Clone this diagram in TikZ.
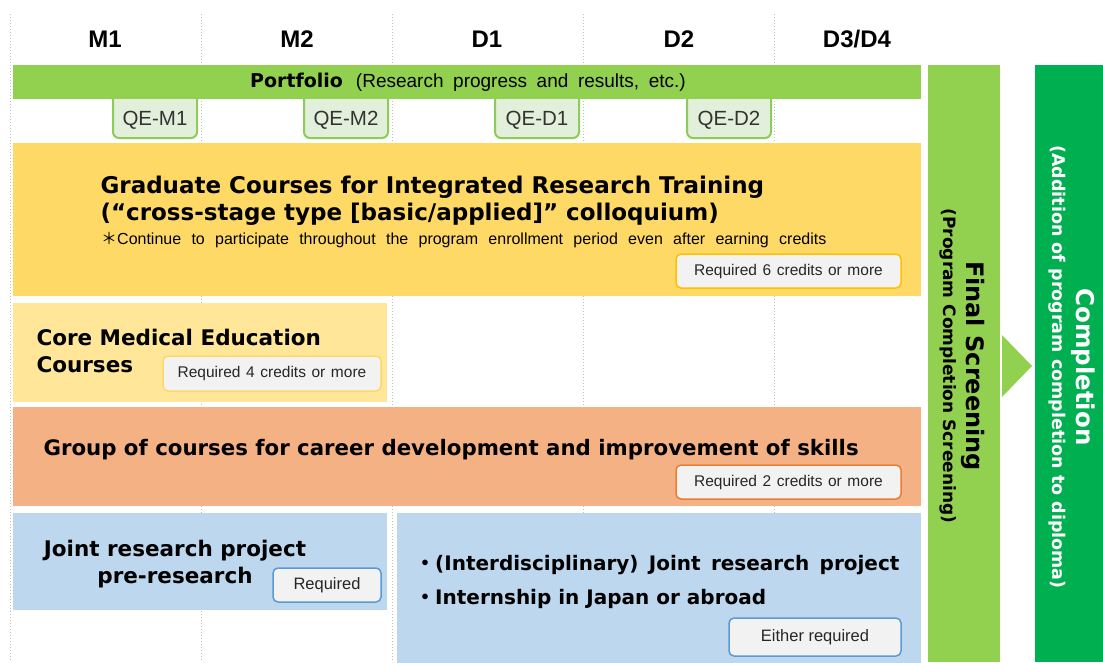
\documentclass[tikz,border=0pt]{standalone}
\usepackage{fontspec}
\setmainfont{Liberation Sans}
\newfontfamily\heavy{DejaVu Sans}
\newfontfamily\cjk{Noto Sans CJK JP}
\newcommand\wordgap[1]{\spaceskip=#1\relax}
\definecolor{cGreen}{HTML}{92D050}
\definecolor{cDkGreen}{HTML}{00B050}
\definecolor{cQEfill}{HTML}{E2EFDA}
\definecolor{cQEline}{HTML}{8DCB5A}
\definecolor{cYellow}{HTML}{FFD966}
\definecolor{cLtYellow}{HTML}{FFE699}
\definecolor{cOrange}{HTML}{F4B183}
\definecolor{cBlue}{HTML}{BDD7EE}
\definecolor{cBadge}{HTML}{F2F2F2}
\definecolor{cGold}{HTML}{FFC000}
\definecolor{cDkOrange}{HTML}{ED7D31}
\definecolor{cDkBlue}{HTML}{5B9BD5}
\definecolor{cGrid}{HTML}{BFBFBF}
\tikzset{
  gridline/.style={cGrid, dotted, line width=1pt},
  block/.style={anchor=north west, inner sep=0pt, outer sep=0pt, draw=none},
  header/.style={anchor=base, font=\bfseries\fontsize{24}{28}\selectfont},
  qebox/.style={fill=cQEfill, draw=cQEline, line width=2pt, rounded corners=6pt},
  qetext/.style={font=\fontsize{20.5}{22}\selectfont, text=black!80},
  badge/.style={draw, line width=1.5pt, fill=cBadge, rounded corners=5pt, inner sep=0pt,
     font={\fontsize{15.5}{18}\selectfont\wordgap{5.6pt}}, text=black!85},
  heavytext/.style={font=\heavy\bfseries\fontsize{#1}{#1}\selectfont},
}
\begin{document}
\begin{tikzpicture}[x=1pt,y=-1pt]
\useasboundingbox (0,0) rectangle (1103,662);
% grid lines
\foreach \x in {10,201,392,583,774} \draw[gridline] (\x,14) -- (\x,662);
% headers
\node[header] (hM1) at (105,47) {M1};
\node[header] (hM2) at (297,47) {M2};
\node[header] (hD1) at (487,47) {D1};
\node[header] (hD2) at (679,47) {D2};
\node[header] (hD3) at (857,47) {D3/D4};
% QE boxes
\foreach \a/\t/\n in {113/QE-M1/qem1, 304/QE-M2/qem2, 495/QE-D1/qed1, 687/QE-D2/qed2}{
  \draw[qebox] (\a,95) -- (\a,138) -- (\a+84,138) -- (\a+84,95);
  \node[qetext] (\n) at (\a+42,120) {\t};
}
% portfolio bar
\node[block, fill=cGreen, minimum width=908pt, minimum height=34pt] (port) at (13,65) {};
\node[font={\fontsize{19}{22}\selectfont\wordgap{9.6pt}}, inner sep=0pt] (portt) at (468,82)
  {{\heavy\bfseries\fontsize{19}{22}\selectfont Portfolio}\hspace{13pt}(Research progress and results, etc.)};
% graduate courses
\node[block, fill=cYellow, minimum width=908pt, minimum height=153pt] (grad) at (13,143) {};
\node[heavytext=23, anchor=base west] (gradt1) at (97,193) {Graduate Courses for Integrated Research Training};
\node[heavytext=23, anchor=base west] (gradt2) at (97,220) {(“cross-stage type [basic/applied]” colloquium)};
\node[anchor=base west, font={\fontsize{16}{18}\selectfont\wordgap{10.3pt}}, inner sep=0pt] (gradn) at (101,244)
  {{\cjk ＊}Continue to participate throughout the program enrollment period even after earning credits};
\node[badge, draw=cGold, minimum width=225pt, minimum height=34pt] (gradb) at (788.5,271) {Required 6 credits or more};
% core medical
\node[block, fill=cLtYellow, minimum width=374pt, minimum height=99pt] (core) at (13,303) {};
\node[heavytext=21.5, anchor=base west, align=left] (coret1) at (33,345) {Core Medical Education};
\node[heavytext=21.5, anchor=base west, align=left] (coret2) at (33,372) {Courses};
\node[badge, draw=cYellow, minimum width=218pt, minimum height=35pt] (coreb) at (272,373.5) {Required 4 credits or more};
% career development
\node[block, fill=cOrange, minimum width=908pt, minimum height=99pt] (career) at (13,407) {};
\node[heavytext=21.3, anchor=base west] (careert) at (40,455) {Group of courses for career development and improvement of skills};
\node[badge, draw=cDkOrange, minimum width=225pt, minimum height=34pt] (careerb) at (788.5,482) {Required 2 credits or more};
% joint research pre-research
\node[block, fill=cBlue, minimum width=374pt, minimum height=97pt] (pre) at (13,513) {};
\node[heavytext=21.5, anchor=base] (pret1) at (175,556) {Joint research project};
\node[heavytext=21.5, anchor=base] (pret2) at (175,583) {pre-research};
\node[badge, draw=cDkBlue, minimum width=108pt, minimum height=34pt, font=\fontsize{16.5}{18}\selectfont] (preb) at (327,585) {Required};
% joint research / internship
\node[block, fill=cBlue, minimum width=524pt, minimum height=150pt] (joint) at (397,513) {};
\node[heavytext=20, anchor=base west, inner sep=0pt] (jointt1) at (415,570) {{\cjk ・}(Interdisciplinary) \,Joint \,research \,project};
\node[heavytext=20, anchor=base west, inner sep=0pt] (jointt2) at (415,604) {{\cjk ・}Internship in Japan or abroad};
\node[badge, draw=cDkBlue, minimum width=172pt, minimum height=38pt, font=\fontsize{16.5}{18}\selectfont] (jointb) at (815,637) {Either required};
% final screening
\node[block, fill=cGreen, minimum width=72pt, minimum height=597pt] (final) at (928,65) {};
\node[rotate=-90, align=center, inner sep=0pt] (finalt) at (962.5,366)
  {{\heavy\bfseries\fontsize{24}{27}\selectfont Final Screening}\\[4pt]{\heavy\bfseries\fontsize{17}{18}\selectfont (Program Completion Screening)}};
% arrow
\fill[cGreen] (1002,335) -- (1032,366) -- (1002,397) -- cycle;
% completion
\node[block, fill=cDkGreen, minimum width=68pt, minimum height=597pt] (compl) at (1035,65) {};
\node[rotate=-90, align=center, inner sep=0pt, text=white] (complt) at (1072,367)
  {{\heavy\bfseries\fontsize{24.5}{27}\selectfont Completion}\\[4pt]{\heavy\bfseries\fontsize{17.5}{21}\selectfont (Addition of program completion to diploma)}};
\end{tikzpicture}
\end{document}
